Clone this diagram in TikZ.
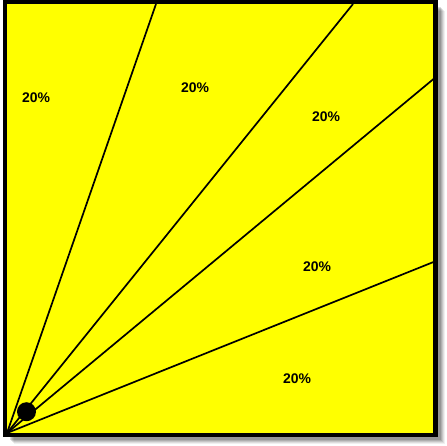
\documentclass[tikz,border=0pt]{standalone}
\usepackage{fontspec}
\setmainfont{Liberation Sans}
\definecolor{ylw}{RGB}{255,255,0}
\begin{document}
\begin{tikzpicture}[x=1bp,y=-1bp,
  pct/.style={font=\fontsize{14}{16}\selectfont\bfseries, text=black, inner sep=0pt},
  ray/.style={draw=black, line width=1.7bp},
  frame/.style={draw=black, line width=4.2bp, fill=ylw}]
\useasboundingbox (0,0) rectangle (447,446);
% shadow
\foreach \o/\op in {9/0.06,8/0.08,7/0.1,6/0.12,5/0.14}{
  \fill[black, opacity=\op] (5+\o,2+\o) rectangle (435.5+\o,435+\o);
}
\draw[frame] (5,2) rectangle (435.5,435);
\coordinate (corner) at (7,433);
\coordinate (e1) at (156,4);
\coordinate (e2) at (353,4);
\coordinate (e3) at (433.5,79);
\coordinate (e4) at (433.5,262);
\foreach \e in {e1,e2,e3,e4}{ \draw[ray] (corner) -- (\e); }
\node[circle, fill=black, minimum size=19bp, inner sep=0pt] (dot) at (26.5,411.7) {};
\node[pct] (p1) at (36,98) {20\%};
\node[pct] (p2) at (195,88) {20\%};
\node[pct] (p3) at (326,117) {20\%};
\node[pct] (p4) at (317,267) {20\%};
\node[pct] (p5) at (297,379) {20\%};
\end{tikzpicture}
\end{document}
